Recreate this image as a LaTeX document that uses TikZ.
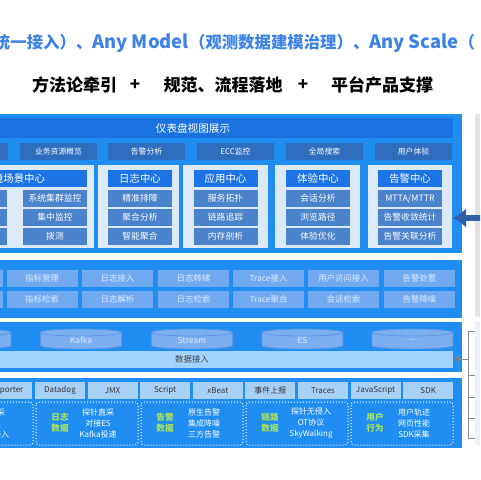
\documentclass[tikz,border=0pt]{standalone}
\usepackage{fontspec}
\setmainfont{Noto Sans CJK SC}
\usetikzlibrary{arrows.meta}

\definecolor{slogan}{HTML}{3D82E6}
\definecolor{panel}{HTML}{1F8DF2}
\definecolor{headbar}{HTML}{1B72E0}
\definecolor{tabdark}{HTML}{2F6DBE}
\definecolor{centerbg}{HTML}{DCEAF8}
\definecolor{titlebar}{HTML}{1C74E6}
\definecolor{itemblue}{HTML}{4A82CC}
\definecolor{opsblue}{HTML}{72AAF2}
\definecolor{opstext}{HTML}{DDE9FC}
\definecolor{cylfill}{HTML}{7BAFF2}
\definecolor{cyledge}{HTML}{5C97E4}
\definecolor{databar}{HTML}{A3D3FF}
\definecolor{srctab}{HTML}{A9D1F8}
\definecolor{leaf}{HTML}{A8E35E}
\definecolor{sidegray}{HTML}{E2E2E2}
\definecolor{sidepale}{HTML}{EBF1F8}
\definecolor{linkblue}{HTML}{2E5FA8}

\newcommand{\pxfont}[1]{\fontsize{#1}{#1}\selectfont}
\newcommand{\morestores}{...}

\begin{document}
\begin{tikzpicture}[x=0.5pt,y=-0.5pt,>={Latex},
    every node/.style={inner sep=0pt,outer sep=0pt},
    tabbox/.style={fill=tabdark,text=white,minimum width=38.5pt,
        minimum height=8.5pt,font=\pxfont{3.9}},
    headbox/.style={fill=titlebar,text=white,minimum width=32pt,
        minimum height=8.5pt,font=\pxfont{5.2}},
    itembox/.style={fill=itemblue,text=white,minimum width=32pt,
        minimum height=8.5pt,font=\pxfont{4.4}},
    opsbox/.style={fill=opsblue,text=opstext,minimum width=35.5pt,
        minimum height=8.5pt,font=\pxfont{4.2}},
    srcbox/.style={fill=srctab,text=black!80,minimum width=25pt,
        minimum height=8.5pt,font=\pxfont{4}},
    srclist/.style={text=white,align=center,font=\fontsize{4}{5.5}\selectfont},
    srckind/.style={text=leaf,align=center,font=\bfseries\fontsize{4.3}{5.6}\selectfont},
    groupline/.style={white,densely dotted,line width=0.5pt,rounded corners=1.5pt}]
    \useasboundingbox (0,0) rectangle (480,480);
    \clip (0,0) rectangle (480,480);

    % Slogan and the three pillars.
    \node[anchor=west,text=slogan,font=\bfseries\pxfont{8.2}] (slogan) at (-6,43)
        {统一接入）、{\pxfont{9.2}Any Model}（观测数据建模治理）、{\pxfont{9.2}Any Scale}（};
    \node[font=\bfseries\pxfont{8.5}] (pillarA) at (74.5,85) {方法论牵引};
    \node[font=\bfseries\pxfont{8.5}] (plusA) at (135,85) {+};
    \node[font=\bfseries\pxfont{8.5}] (pillarB) at (223,85) {规范、流程落地};
    \node[font=\bfseries\pxfont{8.5}] (plusB) at (303,85) {+};
    \node[font=\bfseries\pxfont{8.5}] (pillarC) at (382,85) {平台产品支撑};

    % Side panels on the right.
    \fill[sidegray] (475,114) rectangle (480,317);
    \fill[sidepale] (475,321) rectangle (480,445);

    % Dashboard layer.
    \fill[panel] (0,114) rectangle (462,253);
    \fill[headbar] (0,118) rectangle (453,138);
    \node[text=white,font=\pxfont{5.3}] (dashboard) at (193,128) {仪表盘视图展示};
    \foreach \cx/\lab [count=\i] in {-30.5/,58.5/业务资源概览,146.5/告警分析,
        235.5/ECC监控,324.5/全局搜索,413.5/用户体验}
        \node[tabbox] (tab\i) at (\cx,151.5) {\lab};

    % Scene centres.
    \fill[centerbg] (-100,165) rectangle (94,248);
    \fill[centerbg] (98,165) rectangle (179,248);
    \fill[centerbg] (183,165) rectangle (268,248);
    \fill[centerbg] (275,165) rectangle (360,248);
    \fill[centerbg] (368,165) rectangle (452,248);
    \fill[titlebar] (-60,170) rectangle (87,187);
    \node[anchor=east,text=white,font=\pxfont{5.2}] (envhead) at (45,178.5)
        {环境场景中心};
    \foreach \y/\lab [count=\j] in {198.5/系统集群监控,217.5/集中监控,236.5/拨测} {
        \node[itembox] (envL\j) at (-25,\y) {};
        \node[itembox] (envR\j) at (55,\y) {\lab};
    }
    \foreach \cx/\head/\a/\b/\c [count=\i] in {140/日志中心/精准排障/聚合分析/智能聚合,
        225.5/应用中心/服务拓扑/链路追踪/内存剖析,
        318/体验中心/会话分析/浏览路径/体验优化,
        410/告警中心/{MTTA/MTTR}/告警收敛统计/告警关联分析} {
        \node[headbox] (head\i) at (\cx,178.5) {\head};
        \node[itembox] (item\i a) at (\cx,198.5) {\a};
        \node[itembox] (item\i b) at (\cx,217.5) {\b};
        \node[itembox] (item\i c) at (\cx,236.5) {\c};
    }

    % Link to the side panel.
    \coordinate (linkL) at (453,218);
    \coordinate (linkR) at (500,218);
    \draw[<->,linkblue,line width=3.2pt,>={Latex[length=6.5pt,width=10pt]}]
        (linkL) -- (linkR);

    % Processing layer.
    \fill[panel] (0,260) rectangle (462,318);
    \foreach \cx/\up/\down [count=\i] in {-33//,42/指标管理/指标检索,
        117.5/日志接入/日志解析,193.5/日志转储/日志检索,268.5/Trace接入/Trace聚合,
        343.5/用户访问接入/会话检索,419.5/告警处置/告警降噪} {
        \node[opsbox] (opsA\i) at (\cx,278.5) {\up};
        \node[opsbox] (opsB\i) at (\cx,299.5) {\down};
    }

    % Storage and data intake.
    \fill[panel] (0,322) rectangle (462,372);
    \foreach \cx/\lab [count=\i] in {-29.5/,81/Kafka,192/Stream,302.5/ES,
        412.5/\morestores} {
        \fill[cylfill] ({\cx-40.5},332.5) rectangle ({\cx+40.5},345.5);
        \fill[cylfill] (\cx,345.5) ellipse [x radius=20.25pt,y radius=1.75pt];
        \draw[cyledge,line width=0.4pt] ({\cx-40.5},332.5) -- ({\cx-40.5},345.5)
            arc[start angle=180,end angle=360,x radius=20.25pt,y radius=1.75pt]
            -- ({\cx+40.5},332.5);
        \draw[cyledge,line width=0.4pt,fill=cylfill] (\cx,332.5)
            ellipse [x radius=20.25pt,y radius=1.75pt];
        \node[text=opstext,font=\pxfont{4.2}] (store\i) at (\cx,340) {\lab};
    }
    \fill[databar] (0,351) rectangle (453,368);
    \node[text=black!75,font=\pxfont{4.2}] (intake) at (192,359.5) {数据接入};

    % Bus to the side panel.
    \coordinate (dot) at (457,359);
    \coordinate (busTop) at (468,331);
    \coordinate (busMid) at (468,359);
    \coordinate (busEnd) at (468,438);
    \draw[black!45,line width=0.4pt] (dot) -- (busMid);
    \draw[black!45,line width=0.4pt] (busTop) -- (busEnd);
    \foreach \y in {331,375,397,418,438}
        \draw[black!45,line width=0.4pt] (468,\y) -- (475,\y);
    \fill[black!50] (dot) circle (1.3pt);

    % Source layer.
    \fill[panel] (0,378) rectangle (462,448);
    \foreach \cx/\lab [count=\i] in {7.4/Exporter,60/Datadog,112.6/JMX,165.2/Script,
        217.8/xBeat,270.4/事件上报,323/Traces,375.6/JavaScript,428.2/SDK}
        \node[srcbox] (src\i) at (\cx,390.5) {\lab};
    \foreach \xa/\xb/\kx/\kind/\lx/\list [count=\i] in {
        -70/33/-45/指标\\数据/-7/主动采\\上报\\指标接入,
        36/138/60/日志\\数据/98/探针直采\\对接ES\\Kafka投递,
        141/243/165/告警\\数据/204/原生告警\\集成降噪\\三方告警,
        246/348/270/链路\\数据/311/探针无侵入\\OT协议\\SkyWalking,
        351/453/375/用户\\行为/414/用户轨迹\\网页性能\\SDK采集} {
        \draw[groupline] (\xa,402) rectangle (\xb,445);
        \node[srckind] (kind\i) at (\kx,423) {\kind};
        \node[srclist] (list\i) at (\lx,423) {\list};
    }
\end{tikzpicture}
\end{document}
